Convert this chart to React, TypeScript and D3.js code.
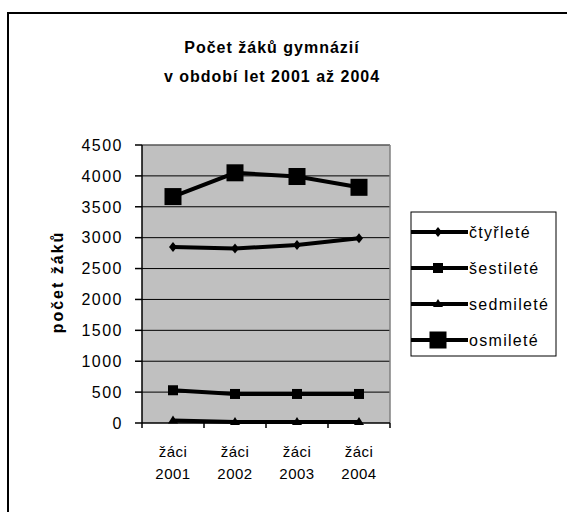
import React from "react";
import * as d3 from "d3";

const categories = ["2001", "2002", "2003", "2004"];
const ctyrlete = [2850, 2825, 2880, 2990];
const sestilete = [530, 470, 470, 470];
const sedmilete = [40, 15, 15, 15];
const osmilete = [3665, 4050, 3990, 3815];
const yTicks = [0, 500, 1000, 1500, 2000, 2500, 3000, 3500, 4000, 4500];

const seriesNames = ["čtyřleté", "šestileté", "sedmileté", "osmileté"];
const seriesValues = [ctyrlete, sestilete, sedmilete, osmilete];
const markers = ["diamond", "smallSquare", "triangle", "bigSquare"];

const font = "'Liberation Sans', Arial, sans-serif";

function Marker({ kind, x, y }: { kind: string; x: number; y: number }) {
  if (kind === "diamond") {
    return <path d={`M${x},${y - 5}L${x + 4},${y}L${x},${y + 5}L${x - 4},${y}Z`} fill="#000" />;
  }
  if (kind === "smallSquare") {
    return <rect x={x - 5} y={y - 5} width={10} height={10} fill="#000" />;
  }
  if (kind === "triangle") {
    return <path d={`M${x},${y - 5}L${x + 5},${y + 3}L${x - 5},${y + 3}Z`} fill="#000" />;
  }
  return <rect x={x - 8.5} y={y - 8.5} width={17} height={17} fill="#000" />;
}

export default function App() {
  const left = 142;
  const right = 390;
  const top = 145;
  const bottom = 423;

  const x = d3.scaleBand().domain(categories).range([left, right]);
  const y = d3.scaleLinear().domain([0, 4500]).range([bottom, top]);
  const cx = (c: string) => (x(c) ?? 0) + x.bandwidth() / 2;

  const line = d3
    .line<number>()
    .x((_, i) => cx(categories[i]))
    .y((d) => y(d));

  const bounds = [...categories.map((c) => x(c) ?? 0), right];

  return (
    <svg
      width={567}
      height={512}
      style={{ position: "absolute", left: 0, top: 0, background: "#fff" }}
    >
      <rect x={0} y={0} width={567} height={512} fill="#fff" />
      <rect x={8} y={13} width={600} height={600} fill="none" stroke="#000" strokeWidth={2} />

      <text x={272} y={53} textAnchor="middle" fontFamily={font} fontWeight="bold" fontSize={16} letterSpacing={1}>
        Počet žáků gymnázií
      </text>
      <text x={272} y={82} textAnchor="middle" fontFamily={font} fontWeight="bold" fontSize={16} letterSpacing={1}>
        v období let 2001 až 2004
      </text>

      {/* plot area */}
      <rect x={left} y={top} width={right - left} height={bottom - top} fill="#c0c0c0" />
      {yTicks.slice(1).map((t) => (
        <line key={t} x1={left} x2={right} y1={y(t)} y2={y(t)} stroke="#000" strokeWidth={1} />
      ))}
      <line x1={right} x2={right} y1={top} y2={bottom} stroke="#808080" strokeWidth={1.5} />
      <line x1={left} x2={right} y1={top} y2={top} stroke="#808080" strokeWidth={1} />

      {/* y axis */}
      <line x1={left} x2={left} y1={top} y2={bottom} stroke="#000" strokeWidth={1.5} />
      {yTicks.map((t) => (
        <g key={t}>
          <line x1={left - 7} x2={left} y1={y(t)} y2={y(t)} stroke="#000" strokeWidth={1.5} />
          <text
            x={123}
            y={y(t)}
            dy="0.36em"
            textAnchor="end"
            fontFamily={font}
            fontSize={16}
            letterSpacing={1.5}
          >
            {t}
          </text>
        </g>
      ))}
      <text
        transform={`translate(63,282) rotate(-90)`}
        textAnchor="middle"
        fontFamily={font}
        fontWeight="bold"
        fontSize={16}
        letterSpacing={2}
      >
        počet žáků
      </text>

      {/* x axis */}
      <line x1={left} x2={right} y1={bottom} y2={bottom} stroke="#000" strokeWidth={1.5} />
      {bounds.map((b, i) => (
        <line key={i} x1={b} x2={b} y1={bottom} y2={bottom + 5} stroke="#000" strokeWidth={1.5} />
      ))}
      {categories.map((c) => (
        <g key={c}>
          <text x={cx(c)} y={457} textAnchor="middle" fontFamily={font} fontSize={15} letterSpacing={0.5}>
            žáci
          </text>
          <text x={cx(c)} y={479} textAnchor="middle" fontFamily={font} fontSize={15} letterSpacing={0.5}>
            {c}
          </text>
        </g>
      ))}

      {/* series */}
      {seriesValues.map((vals, si) => (
        <g key={si}>
          <path d={line(vals) ?? ""} fill="none" stroke="#000" strokeWidth={4} />
          {vals.map((v, i) => (
            <Marker key={i} kind={markers[si]} x={cx(categories[i])} y={y(v)} />
          ))}
        </g>
      ))}

      {/* legend */}
      <rect x={411} y={212} width={145} height={144} fill="#fff" stroke="#000" strokeWidth={1} />
      {seriesNames.map((n, i) => {
        const ly = 232 + i * 36;
        return (
          <g key={n}>
            <line x1={411} x2={468} y1={ly} y2={ly} stroke="#000" strokeWidth={4} />
            <Marker kind={markers[i]} x={438} y={ly} />
            <text x={469} y={ly} dy="0.36em" fontFamily={font} fontSize={16} letterSpacing={1.3}>
              {n}
            </text>
          </g>
        );
      })}
    </svg>
  );
}
